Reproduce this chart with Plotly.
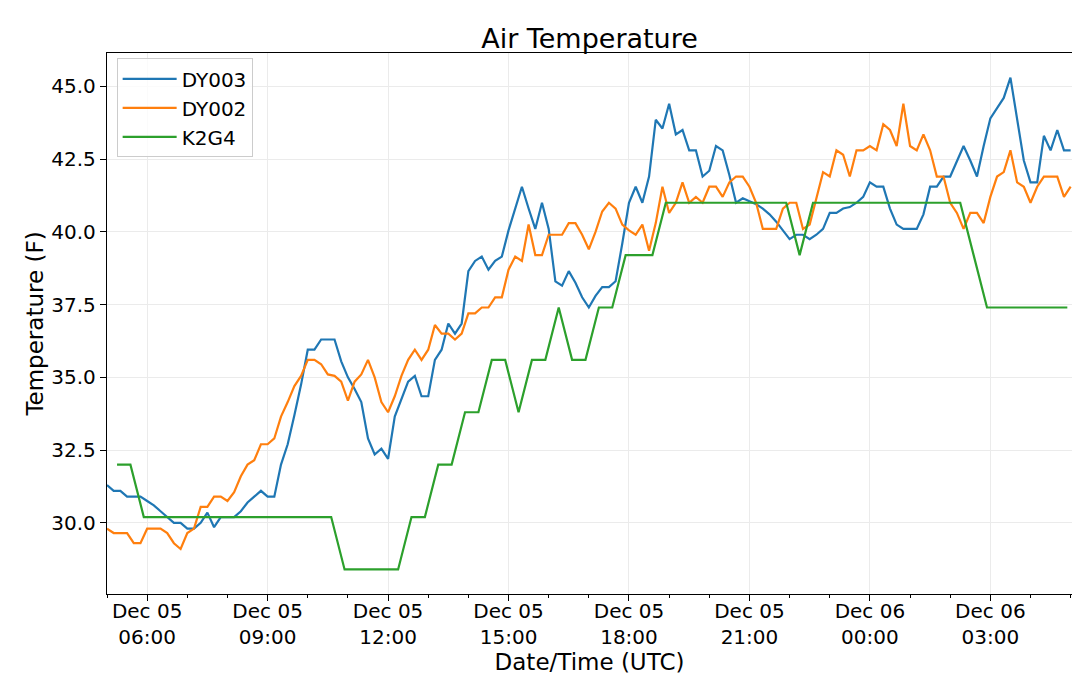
import pandas as pd
import plotly.graph_objects as go

# data (10 min for the two DY stations, 20 min for K2G4)
dy003 = [31.3, 31.1, 31.1, 30.9, 30.9, 30.9, 30.75, 30.6, 30.4, 30.2,
         30.0, 30.0, 29.8, 29.8, 30.0, 30.35, 29.85, 30.2, 30.2, 30.2,
         30.4, 30.7, 30.9, 31.1, 30.9, 30.9, 32.0, 32.7, 33.7, 34.75,
         35.95, 35.95, 36.3, 36.3, 36.3, 35.55, 35.0, 34.6, 34.15, 32.9,
         32.35, 32.55, 32.2, 33.65, 34.25, 34.85, 35.05, 34.35, 34.35, 35.6,
         35.95, 36.85, 36.5, 36.85, 38.65, 39.0, 39.15, 38.7, 39.0, 39.15,
         40.05, 40.8, 41.55, 40.8, 40.1, 41.0, 40.1, 38.3, 38.15, 38.65,
         38.25, 37.75, 37.4, 37.8, 38.1, 38.1, 38.3, 39.6, 41.0, 41.55,
         41.0, 41.9, 43.85, 43.55, 44.4, 43.35, 43.5, 42.8, 42.8, 41.9,
         42.1, 42.95, 42.8, 41.95, 41.0, 41.15, 41.05, 40.95, 40.8, 40.6,
         40.35, 40.05, 39.75, 39.9, 39.9, 39.75, 39.9, 40.1, 40.65, 40.65,
         40.8, 40.85, 41.0, 41.2, 41.7, 41.55, 41.55, 40.8, 40.25, 40.1,
         40.1, 40.1, 40.6, 41.55, 41.55, 41.9, 41.9, 42.45, 42.95, 42.45,
         41.9, 42.95, 43.9, 44.25, 44.6, 45.3, 43.9, 42.45, 41.7, 41.7,
         43.3, 42.8, 43.5, 42.8, 42.8]
dy002 = [29.8, 29.65, 29.65, 29.65, 29.3, 29.3, 29.8, 29.8, 29.8, 29.65,
         29.3, 29.1, 29.65, 29.8, 30.55, 30.55, 30.9, 30.9, 30.75, 31.05,
         31.6, 32.0, 32.15, 32.7, 32.7, 32.9, 33.65, 34.15, 34.7, 35.05,
         35.6, 35.6, 35.45, 35.1, 35.05, 34.85, 34.2, 34.85, 35.1, 35.6,
         35.0, 34.15, 33.8, 34.35, 35.05, 35.6, 35.95, 35.6, 35.95, 36.8,
         36.5, 36.5, 36.3, 36.5, 37.2, 37.2, 37.4, 37.4, 37.75, 37.75,
         38.7, 39.15, 39.0, 40.25, 39.2, 39.2, 39.9, 39.9, 39.9, 40.3,
         40.3, 39.9, 39.4, 40.0, 40.7, 41.0, 40.8, 40.25, 40.05, 39.9,
         40.25, 39.35, 40.3, 41.55, 40.65, 41.0, 41.7, 41.0, 41.2, 41.0,
         41.55, 41.55, 41.2, 41.7, 41.9, 41.9, 41.55, 41.0, 40.1, 40.1,
         40.1, 40.8, 41.0, 41.0, 40.1, 40.25, 41.2, 42.05, 41.9, 42.8,
         42.65, 41.9, 42.8, 42.8, 42.95, 42.8, 43.7, 43.5, 42.95, 44.4,
         42.95, 42.8, 43.35, 42.8, 41.9, 41.9, 41.0, 40.65, 40.1, 40.65,
         40.65, 40.3, 41.2, 41.9, 42.05, 42.8, 41.7, 41.55, 41.0, 41.55,
         41.9, 41.9, 41.9, 41.2, 41.55]
k2g4 = [32.0, 32.0, 30.2,
        30.2, 30.2, 30.2, 30.2, 30.2, 30.2, 30.2, 30.2, 30.2, 30.2, 30.2, 30.2, 30.2, 30.2,
        28.4, 28.4, 28.4, 28.4, 28.4,
        30.2, 30.2, 32.0, 32.0, 33.8, 33.8, 35.6, 35.6, 33.8, 35.6, 35.6,
        37.4, 35.6, 35.6, 37.4, 37.4, 39.2, 39.2, 39.2,
        41.0, 41.0, 41.0, 41.0, 41.0, 41.0, 41.0, 41.0, 41.0, 41.0,
        39.2,
        41.0, 41.0, 41.0, 41.0, 41.0, 41.0, 41.0, 41.0, 41.0, 41.0, 41.0, 41.0,
        39.2,
        37.4, 37.4, 37.4, 37.4, 37.4, 37.4, 37.4]

dy_times = pd.date_range("2019-12-05 05:00", periods=len(dy003), freq="10min")
k2g4_times = pd.date_range("2019-12-05 05:15", periods=len(k2g4), freq="20min")

tick_vals = ["2019-12-05 06:00", "2019-12-05 09:00", "2019-12-05 12:00", "2019-12-05 15:00",
             "2019-12-05 18:00", "2019-12-05 21:00", "2019-12-06 00:00", "2019-12-06 03:00"]
tick_text = ["Dec 05<br>06:00", "Dec 05<br>09:00", "Dec 05<br>12:00", "Dec 05<br>15:00",
             "Dec 05<br>18:00", "Dec 05<br>21:00", "Dec 06<br>00:00", "Dec 06<br>03:00"]

fig = go.Figure()
fig.add_trace(go.Scatter(x=dy_times, y=dy003, mode="lines", name="DY003",
                         line=dict(color="#1f77b4", width=2.2)))
fig.add_trace(go.Scatter(x=dy_times, y=dy002, mode="lines", name="DY002",
                         line=dict(color="#ff7f0e", width=2.2)))
fig.add_trace(go.Scatter(x=k2g4_times, y=k2g4, mode="lines", name="K2G4",
                         line=dict(color="#2ca02c", width=2.2)))

# the page body has an 8px margin, so the figure is 8px smaller and shifted
fig.update_layout(
    width=1072, height=672,
    margin=dict(l=99, r=8, t=45, b=86),
    paper_bgcolor="white", plot_bgcolor="white",
    font=dict(family="DejaVu Sans", size=20, color="black"),
    title=dict(text="Air Temperature", x=0.5, xref="paper", y=0.955, yref="container",
               yanchor="middle", font=dict(size=27)),
    legend=dict(x=0.01, y=0.99, xanchor="left", yanchor="top",
                bgcolor="rgba(255,255,255,0.8)", bordercolor="#cccccc", borderwidth=1,
                font=dict(size=20), tracegroupgap=0, itemwidth=54),
    showlegend=True,
)

fig.update_xaxes(
    range=["2019-12-05 05:00", "2019-12-06 05:02"],
    tickvals=tick_vals, ticktext=tick_text,
    ticks="outside", ticklen=6, tickwidth=1.2, tickcolor="black",
    ticklabelstandoff=-7,
    showline=True, linecolor="black", linewidth=1.3, mirror=True,
    showgrid=True, gridcolor="#ebebeb", gridwidth=1,
    minor=dict(dtick=3600000, ticks="outside", ticklen=3, tickcolor="black", showgrid=False),
    tickfont=dict(size=20),
    title=dict(text="Date/Time (UTC)", font=dict(size=23), standoff=0),
    automargin=False,
    zeroline=False,
)
fig.update_yaxes(
    range=[27.555, 46.145],
    tick0=30, dtick=2.5, tickformat=".1f",
    ticks="outside", ticklen=6, tickwidth=1.2, tickcolor="black",
    showline=True, linecolor="black", linewidth=1.3, mirror=True,
    showgrid=True, gridcolor="#ebebeb", gridwidth=1,
    tickfont=dict(size=20),
    title=dict(text="Temperature (F)", font=dict(size=23), standoff=1),
    automargin=False,
    zeroline=False,
)

fig.write_html("out.html")
